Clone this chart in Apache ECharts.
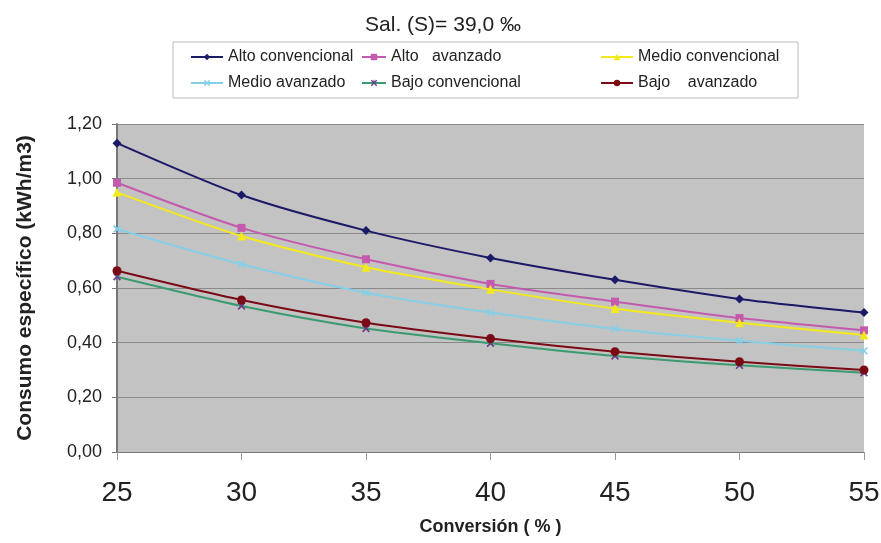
<!DOCTYPE html>
<html lang="es">
<head>
    <meta charset="UTF-8">
    <title>Consumo específico</title>
    <script src="https://cdn.jsdelivr.net/npm/echarts@6/dist/echarts.min.js"></script>
    <style>
        html, body { margin: 0; padding: 0; background: #fff; }
    </style>
</head>
<body>
<div id="main" style="width: 881px;height:543px;"></div>

<script type="text/javascript">
    // datos
    var conversion = [25, 30, 35, 40, 45, 50, 55];
    var altoConvencional  = [1.13, 0.94, 0.81, 0.71, 0.63, 0.56, 0.51];
    var altoAvanzado      = [0.985, 0.82, 0.705, 0.615, 0.55, 0.49, 0.445];
    var medioConvencional = [0.95, 0.79, 0.676, 0.595, 0.525, 0.473, 0.428];
    var medioAvanzado     = [0.816, 0.687, 0.583, 0.51, 0.45, 0.407, 0.37];
    var bajoConvencional  = [0.641, 0.534, 0.452, 0.398, 0.351, 0.317, 0.29];
    var bajoAvanzado      = [0.663, 0.556, 0.473, 0.415, 0.367, 0.33, 0.3];
    var yTicks = [0, 0.2, 0.4, 0.6, 0.8, 1.0, 1.2];

    var xMark = 'path://M0,1.5L1.5,0L5,3.5L8.5,0L10,1.5L6.5,5L10,8.5L8.5,10L5,6.5L1.5,10L0,8.5L3.5,5Z';
    var asterisco = 'path://M0,1.5L1.5,0L4.3,2.8L4.3,0L5.7,0L5.7,2.8L8.5,0L10,1.5L6.5,5L10,8.5L8.5,10L5,6.5L1.5,10L0,8.5L3.5,5Z';

    function pares(vals) {
        return conversion.map(function (c, i) { return [c, vals[i]]; });
    }

    var series = [
        { name: 'Alto convencional', data: altoConvencional, color: '#1a1a66', symbol: 'diamond', size: 9 },
        { name: 'Alto   avanzado', data: altoAvanzado, color: '#c45aae', symbol: 'rect', size: 8 },
        { name: 'Medio convencional', data: medioConvencional, color: '#f2ea1a', symbol: 'triangle', size: 9 },
        { name: 'Medio avanzado', data: medioAvanzado, color: '#86cfe6', symbol: xMark, size: 8 },
        { name: 'Bajo convencional', data: bajoConvencional, color: '#3a9a70', symbol: asterisco, size: 8, mcolor: '#6a3f8a' },
        { name: 'Bajo    avanzado', data: bajoAvanzado, color: '#7a0a14', symbol: 'circle', size: 9 }
    ];

    // posiciones de la leyenda (3 columnas x 2 filas): left, top, ancho del icono
    var legendPos = [[190, 49, 32], [361, 49, 24], [600, 49, 32], [190, 75, 32], [361, 75, 24], [600, 75, 32]];
    var legends = series.map(function (s, i) {
        return {
            data: [s.name],
            left: legendPos[i][0],
            top: legendPos[i][1],
            itemWidth: legendPos[i][2],
            itemHeight: 8,
            itemGap: 4,
            padding: 0,
            selectedMode: false,
            textStyle: { fontFamily: 'Liberation Sans', fontSize: 16, color: '#222' }
        };
    });

    var myChart = echarts.init(document.getElementById('main'));

    myChart.setOption({
        animation: false,
        title: {
            text: 'Sal. (S)= 39,0 ‰',
            left: 438,
            top: 10,
            textAlign: 'center',
            textStyle: { fontFamily: 'Liberation Sans', fontSize: 21, fontWeight: 'normal', color: '#222' }
        },
        graphic: [{
            type: 'rect',
            shape: { x: 173, y: 42, width: 625, height: 56 },
            style: { fill: '#fff', stroke: '#bbb', lineWidth: 1 },
            z: -1
        }],
        legend: legends,
        grid: {
            left: 117,
            right: 17,
            top: 124,
            bottom: 91,
            outerBoundsMode: 'none',
            containLabel: false,
            show: true,
            backgroundColor: '#c3c3c3',
            borderWidth: 0
        },
        xAxis: {
            type: 'value',
            min: 25,
            max: 55,
            interval: 5,
            name: 'Conversión ( % )',
            nameLocation: 'middle',
            nameGap: 66,
            nameTextStyle: { fontFamily: 'Liberation Sans', fontSize: 18, fontWeight: 'bold', color: '#222' },
            axisLine: { show: true, lineStyle: { color: '#777', width: 1 } },
            axisTick: { show: true, length: 8, lineStyle: { color: '#999' } },
            axisLabel: { fontFamily: 'Liberation Sans', fontSize: 28, color: '#222', margin: 27 },
            splitLine: { show: false }
        },
        yAxis: {
            type: 'value',
            min: yTicks[0],
            max: yTicks[yTicks.length - 1],
            interval: 0.2,
            name: 'Consumo específico (kWh/m3)',
            nameLocation: 'middle',
            nameGap: 81,
            nameTextStyle: { fontFamily: 'Liberation Sans', fontSize: 21, fontWeight: 'bold', color: '#222' },
            axisLine: { show: true, lineStyle: { color: '#777', width: 2 } },
            axisTick: { show: true, length: 5, lineStyle: { color: '#777' } },
            axisLabel: {
                fontFamily: 'Liberation Sans', fontSize: 18, color: '#222', margin: 15,
                formatter: function (v) { return v.toFixed(2).replace('.', ','); }
            },
            splitLine: { show: true, lineStyle: { color: '#8a8a8a', width: 1 } }
        },
        series: series.map(function (s) {
            return {
                name: s.name,
                type: 'line',
                data: pares(s.data),
                symbol: s.symbol,
                symbolSize: s.size,
                smooth: 0.25,
                itemStyle: { color: s.mcolor || s.color },
                lineStyle: { color: s.color, width: 2 }
            };
        })
    });
</script>
</body>
</html>
